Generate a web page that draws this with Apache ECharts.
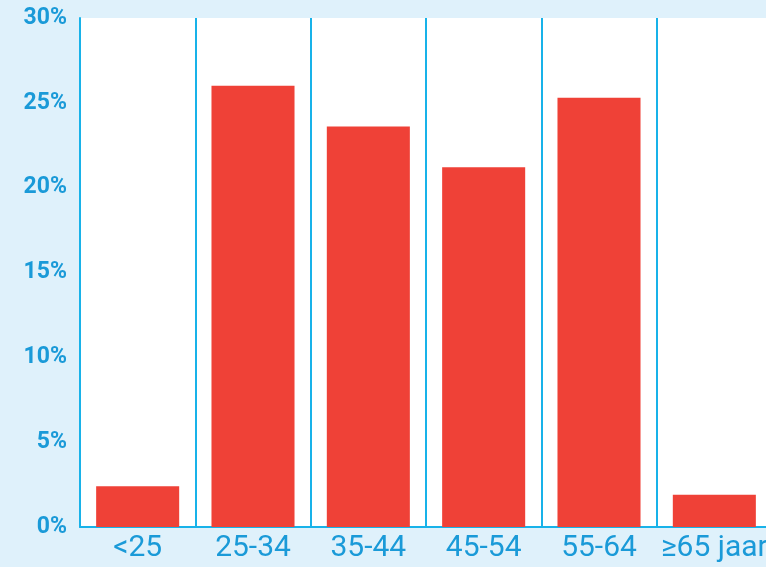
<!DOCTYPE html>
<html><head><meta charset="utf-8">
<script src="https://cdn.jsdelivr.net/npm/echarts@6/dist/echarts.min.js"></script>
<style>html,body{margin:0;padding:0;background:#dff1fb;overflow:hidden;}#c{width:772px;height:567px;}</style>
</head><body><div id="c"></div>
<script>
const categories = ['<25', '25-34', '35-44', '45-54', '55-64', '≥65 jaar'];
const shares = [2.4, 26.0, 23.6, 21.2, 25.3, 1.9];
const yTicks = [0, 5, 10, 15, 20, 25, 30];

const chart = echarts.init(document.getElementById('c'));
chart.setOption({
  backgroundColor: '#dff1fb',
  animation: false,
  grid: { left: 80, right: 0, top: 18, bottom: 40, show: true, backgroundColor: '#ffffff', borderWidth: 0 },
  xAxis: {
    type: 'category', data: categories,
    axisLine: { show: true, lineStyle: { color: '#18b2e9', width: 2 } },
    axisTick: { show: false },
    splitLine: { show: true, lineStyle: { color: '#18b2e9', width: 2 } },
    axisLabel: { color: '#1a9ad8', fontSize: 30, fontFamily: 'Roboto', margin: 6, interval: 0 }
  },
  yAxis: {
    type: 'value', min: 0, max: 30, interval: 5,
    axisLine: { show: true, lineStyle: { color: '#18b2e9', width: 2 } },
    axisTick: { show: false },
    splitLine: { show: false },
    axisLabel: { color: '#1a9ad8', fontSize: 23, fontWeight: 'bold', fontFamily: 'Roboto', margin: 13,
      padding: [4, 0, 0, 0],
      formatter: v => yTicks.includes(v) ? v + '%' : '' }
  },
  series: [{
    type: 'bar', data: shares, barWidth: '72%',
    itemStyle: { color: '#ef4137' }
  }]
});
</script></body></html>
